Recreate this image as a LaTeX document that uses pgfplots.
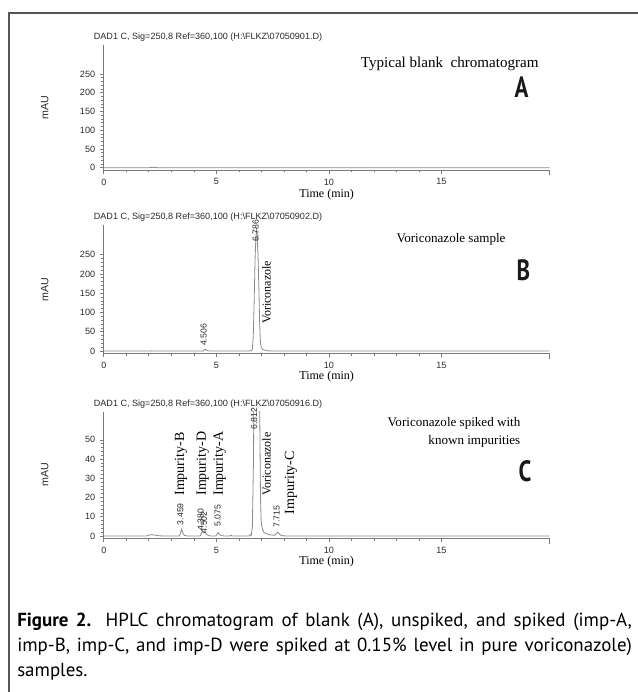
\documentclass[border=0pt]{standalone}
\usepackage{pgfplots}
\pgfplotsset{compat=1.18}
\usepackage{fontspec}
\usepackage{graphicx}
\setmainfont{Liberation Serif}
\newfontfamily\arial{Liberation Sans}
\newfontfamily\capfont{PT Sans}

\definecolor{tracegray}{HTML}{8A8A8A}
\definecolor{axisgray}{HTML}{7A7A7A}
\definecolor{framegray}{HTML}{555555}
\definecolor{txt}{HTML}{2A2A2A}

% common look of the three ChemStation panels
\pgfplotsset{
  chrom/.style={
    scale only axis, width=334.3pt,
    xmin=0, xmax=19.8,
    axis x line=bottom, axis y line=left,
    axis line style={-, axisgray, line width=0.6pt},
    every tick/.style={axisgray, line width=0.5pt},
    tick align=outside,
    major tick length=3pt, minor tick length=1.8pt,
    xtick={0,5,10,15}, minor x tick num=4,
    extra x ticks={19.8}, extra x tick labels={},
    extra x tick style={major tick length=4pt},
    ticklabel style={font=\arial\fontsize{6.8}{8}\selectfont, text=txt},
    /pgf/number format/assume math mode=true,
    xlabel={Time (min)},
    xlabel style={font=\fontsize{9}{10}\selectfont, anchor=center},
    ylabel={mAU},
    ylabel style={font=\arial\fontsize{8}{9}\selectfont, text=txt,
      at={(axis description cs:-0.1324,0.5)}, anchor=center},
    clip mode=individual,
  },
  sig/.style={tracegray, line width=0.6pt, no marks},
}
\tikzset{
  rt/.style={font=\arial\fontsize{6.5}{7}\selectfont, text=txt, rotate=90, anchor=west, inner sep=0.5pt},
  nm/.style={font=\fontsize{#1}{#1}\selectfont, rotate=90, anchor=west, inner sep=0.5pt},
  big/.style={font=\capfont\bfseries\fontsize{22}{22}\selectfont, text=black!90},
}

\begin{document}
\begin{tikzpicture}
\useasboundingbox (0,0) rectangle (478.5pt,519pt);

% ---------- A: blank ----------
\begin{axis}[chrom, at={(77.85pt,391.5pt)}, anchor=south west,
  height=93.75pt, ymin=-6, ymax=327,
  ytick={0,50,...,250}, minor y tick num=4,
  xlabel style={at={(axis description cs:0.5,-0.2)}}]
\addplot[sig] coordinates {
  (0,0) (2.0,0) (2.1,0.6) (2.2,1.2) (2.3,0.6) (2.4,0) (19.8,0)};
\end{axis}

% ---------- B: voriconazole sample ----------
\begin{axis}[chrom, at={(77.85pt,254.0pt)}, anchor=south west,
  height=96.2pt, ymin=-6, ymax=327,
  ytick={0,50,...,250}, minor y tick num=4,
  xlabel style={at={(axis description cs:0.5,-0.185)}}]
\addplot[sig] coordinates {
  (0,0) (2.0,0) (2.1,0.4) (2.2,0)
  (4.40,0) (4.45,1.5) (4.506,4.5) (4.56,2.5) (4.62,1.0) (4.70,0)
  (6.45,0) (6.50,1.0) (6.55,0.3) (6.60,6) (6.64,40) (6.68,130)
  (6.72,240) (6.76,300) (6.786,315) (6.81,305) (6.85,250) (6.89,160)
  (6.92,80) (6.95,30) (6.99,10) (7.05,4) (7.15,2) (7.30,0.5) (7.50,0)
  (19.8,0)};
\node[rt] at (axis cs:4.43,11) {4.506};
\node[rt] at (axis cs:6.74,281) {6.786};
\node[nm=9] at (axis cs:7.23,68) {Voriconazole};
\end{axis}

% ---------- C: spiked sample ----------
\begin{axis}[chrom, at={(77.85pt,115.3pt)}, anchor=south west,
  height=95pt, ymin=-1.2, ymax=64.7,
  ytick={0,10,...,50}, minor y tick num=4,
  xlabel style={at={(axis description cs:0.5,-0.187)}}]
\addplot[sig] coordinates {
  (0,0) (1.9,0) (2.0,0.4) (2.1,0.7) (2.2,0.5) (2.3,0.4) (2.45,0.1) (2.6,0)
  (3.35,0) (3.40,1.2) (3.459,3.5) (3.51,1.4) (3.58,0.3) (3.70,0)
  (4.28,0) (4.33,1.2) (4.38,2.4) (4.44,1.7) (4.502,2.0) (4.56,0.9) (4.65,0.2) (4.75,0)
  (4.98,0) (5.02,0.8) (5.075,1.8) (5.13,1.0) (5.22,0.2) (5.35,0)
  (5.60,0) (5.65,0.4) (5.70,0)
  (6.45,0) (6.50,0.7) (6.55,0.2) (6.60,5) (6.65,40) (6.70,140) (6.75,260)
  (6.812,320) (6.86,280) (6.90,170) (6.93,60) (6.96,20) (6.99,8) (7.04,3.5)
  (7.12,1.8) (7.25,1.0) (7.40,0.5) (7.60,0.4) (7.66,1.2) (7.715,2.0) (7.77,1.4)
  (7.85,0.5) (7.95,0.1) (8.10,0) (19.8,0)};
\node[rt] at (axis cs:3.40,5.2) {3.459};
\node[rt] at (axis cs:4.30,2.4) {4.380};
\node[rt] at (axis cs:4.45,1.0) {4.502};
\node[rt] at (axis cs:5.06,4.5) {5.075};
\node[rt] at (axis cs:6.68,54.8) {6.812};
\node[rt] at (axis cs:7.68,4.0) {7.715};
\node[nm=10.5] at (axis cs:3.43,20.5) {Impurity-B};
\node[nm=10.5] at (axis cs:4.39,20.5) {Impurity-D};
\node[nm=10.5] at (axis cs:5.15,20.5) {Impurity-A};
\node[nm=9] at (axis cs:7.23,20.5) {Voriconazole};
\node[nm=10.5] at (axis cs:8.31,10.9) {Impurity-C};
\end{axis}

% ---------- frame, headers, panel notes, caption (pixel units, y down) ----------
\begin{scope}[x=0.75pt, y=-0.75pt, shift={(0pt,519pt)}]
\draw[framegray, line width=1.3pt] (9,692) -- (9,13) -- (638,13);
\begin{scope}[every node/.style={anchor=west, inner sep=0pt, text=txt,
    font=\arial\fontsize{6.8}{8}\selectfont}]
\node at (93.6,37) {DAD1 C, Sig=250,8 Ref=360,100 (H:\textbackslash FLKZ\textbackslash 07050901.D)};
\node at (93.6,217) {DAD1 C, Sig=250,8 Ref=360,100 (H:\textbackslash FLKZ\textbackslash 07050902.D)};
\node at (93.6,404) {DAD1 C, Sig=250,8 Ref=360,100 (H:\textbackslash FLKZ\textbackslash 07050916.D)};
\end{scope}
\node[font=\fontsize{11.3}{12}\selectfont] at (449.7,64) {Typical blank\ \ chromatogram};
\node[font=\fontsize{9.8}{11}\selectfont] at (451,239) {Voriconazole sample};
\node[font=\fontsize{9.8}{13.5}\selectfont, align=right, anchor=east] at (525,432)
  {Voriconazole spiked with\\known impurities};
\node[big] at (521.5,87.5) {\scalebox{0.78}[1]{A}};
\node[big] at (523.5,270) {\scalebox{0.78}[1]{B}};
\node[big] at (525,470.8) {\scalebox{0.78}[1]{C}};
\node[anchor=north west, text width=461pt, align=justify, inner sep=0pt,
  font=\capfont\fontsize{14.2}{18.75}\selectfont, text=black] at (17,613)
  {\textbf{Figure 2.} HPLC chromatogram of blank (A), unspiked, and spiked (imp-A,\linebreak
   imp-B, imp-C, and imp-D were spiked at 0.15\% level in pure voriconazole)\linebreak
   samples.};
\end{scope}
\end{tikzpicture}
\end{document}
